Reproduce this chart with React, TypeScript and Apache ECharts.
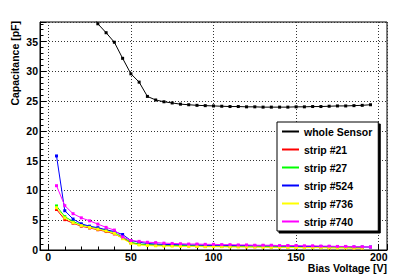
import React, { useEffect, useRef } from "react";
import * as echarts from "echarts";

// Bias voltage steps [V]
const voltages = [
  5, 10, 15, 20, 25, 30, 35, 40, 45, 50, 55, 60, 65, 70, 75, 80, 85, 90, 95, 100,
  105, 110, 115, 120, 125, 130, 135, 140, 145, 150, 155, 160, 165, 170, 175, 180, 185, 190, 195,
];

// Capacitance [pF]
const wholeSensor = [
  null, null, null, 43.0, 40.6, 38.0, 36.5, 34.9, 32.2, 29.6, 28.2, 25.8, 25.2, 24.9, 24.7, 24.5, 24.4, 24.3, 24.25, 24.2,
  24.15, 24.1, 24.1, 24.05, 24.05, 24.0, 24.0, 24.0, 24.0, 24.05, 24.05, 24.1, 24.1, 24.15, 24.2, 24.2, 24.25, 24.3, 24.4,
];
const strip21 = [
  6.8, 5.1, 4.5, 4.0, 3.7, 3.4, 3.1, 2.7, 2.0, 1.2, 0.95, 0.85, 0.8, 0.75, 0.75, 0.7, 0.7, 0.65, 0.65, 0.65,
  0.6, 0.6, 0.6, 0.55, 0.55, 0.55, 0.5, 0.5, 0.5, 0.5, 0.45, 0.45, 0.45, 0.4, 0.4, 0.4, 0.35, 0.35, null,
];
const strip27 = [
  7.4, 5.6, 4.8, 4.2, 3.9, 3.6, 3.3, 2.9, 2.2, 1.3, 1.0, 0.9, 0.85, 0.8, 0.8, 0.75, 0.75, 0.7, 0.7, 0.7,
  0.65, 0.65, 0.65, 0.6, 0.6, 0.6, 0.55, 0.55, 0.55, 0.5, 0.5, 0.5, 0.5, 0.45, 0.45, 0.45, 0.4, 0.4, null,
];
const strip524 = [
  15.8, 6.6, 5.2, 4.4, 4.0, 3.75, 3.4, 3.1, 2.6, 1.6, 1.3, 1.1, 1.0, 0.95, 0.9, 0.9, 0.85, 0.85, 0.8, 0.8,
  0.8, 0.75, 0.75, 0.75, 0.7, 0.7, 0.7, 0.65, 0.65, 0.65, 0.6, 0.6, 0.6, 0.55, 0.55, 0.55, 0.5, 0.5, 0.5,
];
const strip736 = [
  7.1, 5.4, 4.6, 4.1, 3.8, 3.5, 3.2, 2.8, 1.9, 1.1, 0.85, 0.75, 0.7, 0.65, 0.65, 0.6, 0.6, 0.6, 0.55, 0.55,
  0.55, 0.5, 0.5, 0.5, 0.5, 0.45, 0.45, 0.45, 0.45, 0.4, 0.4, 0.4, 0.4, 0.35, 0.35, 0.35, 0.3, 0.3, null,
];
const strip740 = [
  10.8, 7.45, 6.1, 5.4, 4.9, 4.35, 3.8, 3.35, 2.2, 1.6, 1.45, 1.3, 1.25, 1.15, 1.1, 1.05, 1.0, 1.0, 0.95, 0.95,
  0.9, 0.9, 0.85, 0.85, 0.8, 0.8, 0.8, 0.75, 0.75, 0.75, 0.7, 0.7, 0.65, 0.65, 0.6, 0.6, 0.55, 0.55, 0.5,
];

const seriesNames = ["whole Sensor", "strip #21", "strip #27", "strip #524", "strip #736", "strip #740"];
const seriesValues = [wholeSensor, strip21, strip27, strip524, strip736, strip740];
const seriesColors = ["#000000", "#ff0000", "#00ff00", "#0000ff", "#ffff00", "#ff00ff"];

const xTitle = "Bias Voltage [V]";
const yTitle = "Capacitance [pF]";

const FONT = "'Liberation Sans', Arial, Helvetica, sans-serif";

function pairs(values: (number | null)[]) {
  const out: [number, number][] = [];
  values.forEach((v, i) => {
    if (v !== null) out.push([voltages[i], v]);
  });
  return out;
}

export default function App() {
  const ref = useRef<HTMLDivElement>(null);
  useEffect(() => {
    if (!ref.current) return;
    const chart = echarts.init(ref.current, undefined, { renderer: "svg" });
    const labelStyle = { fontFamily: FONT, fontWeight: "bold" as const, fontSize: 10.5, color: "#000" };
    const gridLine = { show: true, lineStyle: { color: "#333", type: [1, 2], width: 1 } };
    chart.setOption({
      animation: false,
      backgroundColor: "#ffffff",
      grid: {
        left: 40,
        right: 24,
        top: 22,
        bottom: 29,
        show: true,
        borderColor: "#000",
        borderWidth: 1,
        backgroundColor: "#fff",
      },
      xAxis: {
        type: "value",
        min: -5,
        max: 205,
        splitNumber: 5,
        axisLine: { show: true, onZero: false, lineStyle: { color: "#000", width: 1 } },
        axisTick: { show: true, inside: true, length: 6, lineStyle: { color: "#000" } },
        minorTick: { show: true, splitNumber: 5, length: 3.5, lineStyle: { color: "#000" } },
        splitLine: gridLine,
        axisLabel: {
          ...labelStyle,
          margin: 1,
          formatter: (v: number) => (Math.abs(v % 50) < 1e-9 ? String(v) : ""),
        },
      },
      yAxis: {
        type: "value",
        min: 0,
        max: 38.3,
        interval: 5,
        axisLine: { show: true, onZero: false, lineStyle: { color: "#000", width: 1 } },
        axisTick: { show: true, inside: true, length: 6, lineStyle: { color: "#000" } },
        minorTick: { show: true, splitNumber: 5, length: 3.5, lineStyle: { color: "#000" } },
        splitLine: gridLine,
        axisLabel: {
          ...labelStyle,
          margin: 2,
          formatter: (v: number) => (Math.abs(v % 5) < 1e-9 ? String(v) : ""),
        },
      },
      legend: {
        orient: "vertical",
        left: 277,
        top: 122,
        itemWidth: 17,
        itemHeight: 12,
        itemGap: 6,
        padding: [3.5, 6, 3.5, 4],
        backgroundColor: "#fff",
        borderColor: "#000",
        borderWidth: 1,
        shadowColor: "#000",
        shadowOffsetX: 2,
        shadowOffsetY: 2,
        shadowBlur: 0,
        selectedMode: false,
        itemStyle: { opacity: 0 },
        textStyle: { ...labelStyle, lineHeight: 12 },
        data: seriesNames,
      },
      graphic: [
        {
          type: "text",
          right: 24,
          top: 262,
          style: { text: xTitle, font: `bold 10.5px ${FONT}`, fill: "#000" },
        },
        {
          type: "text",
          x: 14.5,
          y: 21,
          rotation: Math.PI / 2,
          style: {
            text: yTitle,
            font: `bold 10.5px ${FONT}`,
            fill: "#000",
            align: "right",
            verticalAlign: "middle",
          },
        },
      ],
      series: seriesNames.map((name, i) => ({
        name,
        type: "line",
        data: pairs(seriesValues[i]),
        symbol: "rect",
        symbolSize: 3,
        showSymbol: true,
        clip: true,
        color: seriesColors[i],
        lineStyle: { color: seriesColors[i], width: 1 },
        itemStyle: { color: seriesColors[i] },
        z: 3 + i,
      })),
    });
    return () => chart.dispose();
  }, []);
  return (
    <div
      ref={ref}
      style={{ position: "absolute", left: 0, top: 0, width: 411, height: 279, background: "#fff" }}
    />
  );
}
